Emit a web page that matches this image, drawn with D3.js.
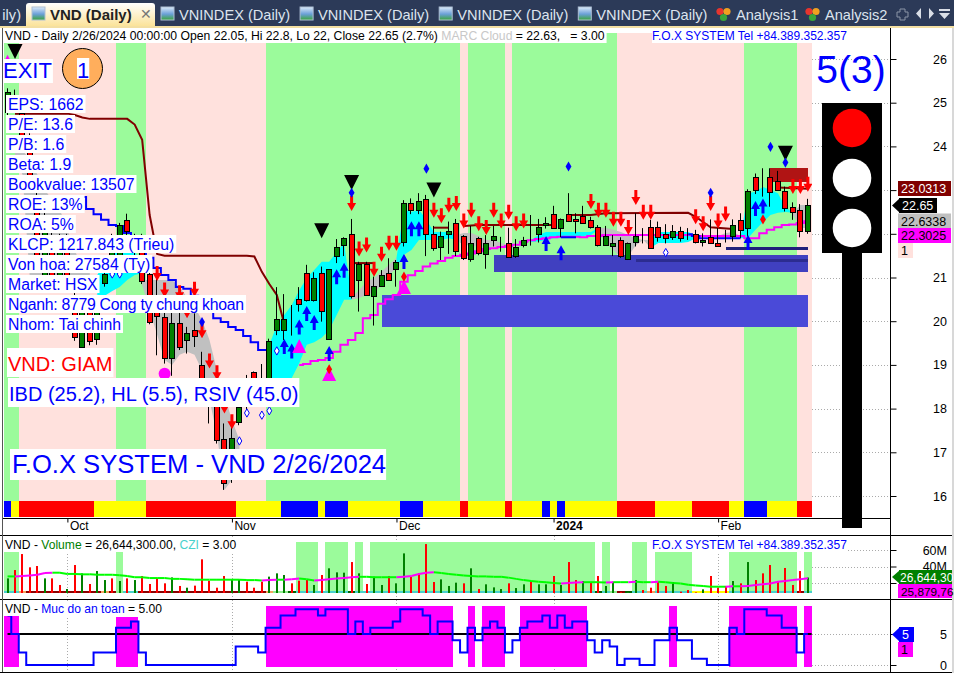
<!DOCTYPE html>
<html><head><meta charset="utf-8">
<script src="https://cdn.jsdelivr.net/npm/d3@7"></script>
<style>
html,body{margin:0;padding:0;background:#fff;overflow:hidden}
svg{display:block}
text{font-family:"Liberation Sans",Arial,sans-serif}
</style></head><body>
<svg id="c" width="954" height="673"></svg>
<script>
// ---------- DATA (bar number 1..108, prices in thousand VND, volume in millions) ----------
const open=[24.8,25.2,24.76,24.26,22.77,21.06,21.97,21.06,21.86,20.26,19.39,20.2,19.58,20.88,21.2,21.3,22.31,21.75,21.95,21.09,20.48,20.09,19.15,19.95,19.58,19.79,18.99,18.55,18.4,17.3,16.95,17.69,18.1,18.84,18.5,18.3,19.78,19.78,20.2,20.5,21.1,20.49,21.1,19.59,21.48,21.73,21.99,20.93,21.3,20.58,20.79,21.1,21.18,21.8,22.7,22.54,22.79,21.99,21.69,21.98,22.24,21.94,21.43,21.9,21.55,21.84,21.73,21.8,21.48,21.73,21.98,21.98,22.19,22.45,22.14,22.45,22.35,22.4,22.31,22.15,21.73,21.73,21.85,21.43,21.8,21.89,22.15,22.15,21.99,21.93,22.06,21.93,21.99,21.8,21.93,21.8,21.8,21.93,22.31,22.14,23.29,23.21,23.29,23.2,22.99,22.61,22.54,22.05];
const high=[25.33,25.3,24.9,24.3,23,22.5,22.1,22,22,21,20.3,20.6,20.6,21.2,22,22.25,22.46,22,22,21.4,21.24,20.25,20.2,20.33,19.87,20.18,19.3,18.7,18.6,17.66,17.7,18.12,18.77,18.85,19.02,19.6,20.78,20.62,20.37,20.78,21.29,21.12,21.25,21.19,21.88,21.92,22.34,21.36,21.36,21.02,21.17,21.44,21.4,22.77,22.81,22.93,22.89,22.18,22.05,22.28,22.34,21.97,22.18,21.93,21.97,22.18,21.93,22.14,21.88,21.93,22.43,22.34,22.38,22.64,22.35,22.93,22.47,22.64,22.39,22.2,22.18,21.97,21.92,21.8,22.47,22.13,22.32,22.28,22.22,22.2,22.16,22.13,22.09,22.01,22.33,22.13,22.09,22.33,22.47,23.02,23.38,23.5,23.5,23.44,23.08,22.72,22.68,22.8];
const low=[24.7,25.15,24.2,23.3,21.4,21,20.9,21,20.9,19.55,19.3,19.45,19.46,20.79,21.15,21.2,21.95,21.4,20.85,19.93,19.22,19.03,18.75,19.34,19.26,19.41,18.4,17.66,17.2,16.14,16.3,17.62,17.9,18.15,18.2,18.2,19.68,19.57,19.67,20.22,20.45,20.45,19.99,19.59,21.33,21.49,20.52,20.22,20.58,19.9,20.79,20.93,20.79,21.71,22.45,22.45,21.49,21.61,21.4,21.54,21.49,21.4,21.36,21.51,21.2,21.71,21.59,21.45,21.45,21.69,21.73,21.8,22.12,22.12,21.92,22.3,22.01,22.23,22.12,21.71,21.73,21.49,21.45,21.4,21.71,21.78,21.68,21.82,21.78,21.86,21.82,21.86,21.78,21.71,21.78,21.71,21.8,21.82,21.9,21.93,22.91,22.85,22.62,22.99,22.51,22.32,21.92,22];
const close=[25.25,25.2,24.26,23.35,21.45,22.43,20.94,21.86,20.99,19.65,20.2,19.53,20.2,21.09,21.9,22.19,22.05,21.75,20.93,19.99,20.12,19.15,19.95,19.4,19.74,19.65,18.55,18.1,17.28,16.29,17.33,18.03,18.4,18.3,18.6,19.54,20.04,20.04,20.2,20.38,20.49,21,20.23,21.19,21.69,21.9,20.58,21.3,20.58,20.8,21.05,20.93,21.35,22.7,22.54,22.74,21.98,21.68,21.94,22.06,21.59,21.43,21.8,21.55,21.8,21.94,21.73,21.48,21.69,21.85,21.98,22.15,22.24,22.14,22.35,22.3,22.3,22.23,22.14,21.73,21.94,21.8,21.48,21.8,21.94,21.89,21.68,21.93,21.89,22.06,21.89,21.93,21.8,21.85,21.8,21.73,21.8,22.19,22.09,22.99,22.99,23.21,22.94,22.99,22.6,22.49,22.05,22.65];
const volume=[25.6,35.7,55.1,39,40.6,25.6,25.6,17.6,12.7,41.8,31.7,18.8,34.5,23.6,25.6,22.4,25.6,23.6,28.5,18.8,25.6,19.6,26.8,16.4,14.3,16.8,48.7,22.8,14.3,28.5,24.4,24.4,21.6,14.3,21.6,27.7,31.7,29.7,19.6,22.8,23.6,17.6,29.7,37.8,32.9,32.5,45.4,31.7,18.8,27.7,17.6,28.5,19.6,55.9,27.7,31.7,67.2,21.2,24.4,16.4,20.4,19.6,37.8,12.7,18.4,14.7,12.7,19.6,13.9,18.4,22.4,18.4,18.4,28.5,17.6,45.4,23.6,22.4,20.4,28.5,16.4,21.6,9,9,23.6,11.5,14.3,21.6,16.4,21.2,9.5,11.5,8.6,12.3,28.5,14.3,16.4,22.4,19.6,45.4,23.6,31.7,41.8,22.4,38.2,17.6,34.5,26.64];
const volumeSide="grrrrgrrgr"+"grggrgrgrr"+"rrgrgrrrrr"+"ggrrrgggrr"+"rgrgggrgrg"+"grggrrrrgg"+"grgrgggrgg"+"rggrgrrgrr"+"ggrggrrrrg"+"rrrgrrrgrg"+"rrrrrrrg";
const volumeMA=[28,28,28.5,29,30,32,32.5,32.5,31,31,30.5,30.5,30,30,30,29.5,28.5,27,27,26,26,26,25,25,24.5,24,24,24,24,24,24,24,23.5,23.5,23,23.5,24,24,24.5,25.5,24.5,23,23.5,24.5,25.5,26,27,27.5,27.5,27,27,27,27,27.5,28.5,31,32.5,33,32,31,30,29,28.5,28,28,27.5,27.5,26.5,25,23.5,22.5,21.5,21,20,19.5,20,20.5,21,21,21,20.5,21,21,21,21.5,21,21,21.5,21,20,19.5,18,17,16.5,15.5,15.5,15.5,16,16,16.5,17.5,18.5,19.5,21.5,22.5,23.5,24.5,25.88];
const safety=[8,5,2,0,0,0,0,0,0,0,0,0,2,2,2,6,6,7,2,0,0,0,0,0,0,0,0,0,0,0,0,3,3,3,2,6,6,8,8,9,9,9,8,9,9,9,5,7,5,6,6,6,7,9,9,9,8,5,7,7,4,2,6,4,6,7,6,2,4,6,7,7,8,6,8,6,7,7,4,2,4,3,0,1,1,0,0,4,4,6,4,4,1,1,0,0,0,6,5,9,9,9,8,8,6,6,2,5];
const safetyThreshold=5;
const safetyLowTopBars=[16,17,18];
const regimeKeys=["G","P","G","P","G","P","G","P","G","P","G","P"];
const regimeRuns=[2,13,4,16,26,1,5,1,14,17,7,2];
const stripKeys=["B","Y","R","Y","R","Y","B","Y","B","Y","B","Y","R","Y","R","Y","B","Y","B","Y","R","Y","R","Y","B","Y","R"];
const stripRuns=[1,1,10,7,12,6,5,1,3,7,3,5,1,5,1,4,1,1,1,7,5,5,5,2,3,4,2];
const cziKeys=[3,0,3,0,5,0,5,0,5,0,5,0,5,0,5,0,3,0,3,0,3];
const cziRuns=[2,13,1,23,3,1,3,1,1,1,30,1,1,3,2,1,5,5,9,1,1];
const flowKeys=["T","O","D","O","D","L","T","D","O","L","G","T","G","T","G","T","L","D","G","T","O","T","Y","T","D","T"];
const flowRuns=[2,1,10,1,1,1,2,17,1,2,1,7,1,32,1,1,1,1,1,2,1,5,5,9,1,1];
const monthBars=[9,31,53,74,96];
const monthNames=["Oct","Nov","Dec","2024","Feb"];
const priceTicks=[26,25,24,23,22,21,20,19,18,17,16];
const priceTicksCovered=[23,22];
const volumeTicks=[60,40,20];
const safetyTicks=[5,0];
const stopSeg1=[[2,24.75],[9,24.75],[10,24.72],[11,24.66],[12,24.63],[17,24.63],[18,24.5],[19,24.15],[20,22.43],[21,21.54],[22,21.5],[33,21.5],[34,21.48],[35,21.13],[36,20.85],[37,20.6],[38,19.93]];
const stopSeg2=[[47,21.33],[50,21.33]];
const stopSeg3=[[58,22.14],[60,22.14]];
const stopSeg4=[[62,22.18],[64,22.2],[74,22.2]];
const stopSeg5=[[76,22.43],[79,22.43],[81,22.47],[92,22.48],[93,22.39],[95,22.15],[98,22.11]];
const stopSeg6=[[104,23.06],[108,23.03]];
const trendBars=[11,12,13,14,15,16,17,18,19,20,21,22,23,24,25,26,27,28,29,30,31,32,33,34,35,36,92,93,94,95,96,97,98,99];
const trendVals=[22.84,22.57,22.45,22.32,22.2,22.18,22.02,21.86,21.63,21.45,21.22,21.06,20.94,20.78,20.74,20.58,20.42,20.23,20.07,19.98,19.87,19.8,19.66,19.52,19.34,19.34,21.99,21.95,21.9,21.9,21.9,21.9,21.9,21.9];
const trendSeg2=[[75,21.92],[77,21.92]];
const baseVals=[19,19.02,19.09,19.11,19.16,19.3,19.46,19.57,19.73,20.07,20.14,20.4,20.5,20.6,20.9,21.05,21.15,21.25,21.32,21.38,21.45,21.49,21.52,21.55,21.6,21.65,21.67,21.7,21.72,21.75,21.82,21.85,21.88,21.9,21.92,21.93,21.93,21.93,21.92,21.95,21.95,21.97,21.97,21.97,21.97,21.97,21.97,21.97,21.97,21.97,21.97,21.97,21.97,21.95,21.95,21.95,21.95,21.95,21.95,21.95,21.9,21.9,22.01,22.09,22.15,22.2,22.21,22.25,22.29];
const baseFirstBar=40;
// MARC cloud pieces: first bar, upper edge, lower edge
const cloudGrey=[
 [2,[24.03,23.92,23.69,23.35,23,22.77,22.55,22.09,21.63,21.17,21.13],[23.8,23.35,20.94,20.83,20.76,20.72,20.72,20.72,20.72,20.72,20.72]],
 [19,[20.94,20.94,20.94,20.94,20.94,20.78,20.55,20.33,20.03,19.57,18.88,18.31,17.74,17.28],[20.83,20.26,19.69,19.11,19,19.23,19.3,19.23,18.88,18.2,17.4,16.14,16.37,17.05]],
 [47,[20.55,20.71,20.9,20.99,21.13,21.29,21.45],[20.49,20.53,20.6,20.67,20.83,21.06,21.22]],
 [61,[21.97,22.02,22.02,21.95,21.86,21.86,21.79,21.74],[21.86,21.74,21.74,21.7,21.63,21.68,21.68,21.68]],
 [80,[22.13,22.13,22.09,22.04,21.97,21.9,21.86,21.86],[22.06,21.81,21.63,21.45,21.49,21.74,21.86,21.68]],
 [96,[21.95,22.02,22.04,21.95],[21.9,21.9,21.88,21.9]],
 [106,[22.48,22.66,22.66],[22.43,22.13,22.13]]
];
const cloudCyan=[
 [13,[21.06,21.36,21.52,21.63,21.68,21.63,21.17],[20.49,20.58,20.69,20.78,20.94,21.06,21.1]],
 [36,[19.46,19.91,20.14,20.37,20.71,20.99,21.17,21.36,21.36,21.58,21.79,20.55],[18.2,18.31,18.47,18.7,19.04,19.46,19.52,19.62,19.8,20.14,20.49,20.49]],
 [53,[21.45,22.55,22.5,22.55,22.32,22.04,22.04,22.04,21.97],[21.22,21.52,21.63,21.86,21.86,21.86,21.86,21.9,21.86]],
 [71,[21.86,21.97,22.04,22.04,22.04,22.04,22.04,22.04,22.04,22.13],[21.81,21.83,21.86,21.9,21.9,21.93,21.93,21.95,21.97,22.09]],
 [87,[21.86,22.04,22.04,22.04,22.04,22.04,21.97],[21.68,21.79,21.79,21.79,21.79,21.81,21.9]],
 [99,[21.93,22.93,22.96,23.07,23,22.93,22.61,22.48],[21.9,21.9,22.09,22.27,22.43,22.48,22.5,22.48]]
];
const sellBars=[21,22,24,25,26,27,28,29,30,31,47,48,49,50,51,52,53,58,59,60,61,62,63,64,65,66,67,68,69,70,79,80,81,82,83,84,85,86,87,93,94,95,96,97,106,107,108];
const sellTips=[20.92,20.54,20.48,20.07,20.56,19.61,18.92,18.65,17.89,17.53,22.52,21.48,21.57,21.02,21.36,21.61,21.61,22.37,22.24,22.48,22.52,22.12,22.37,22.06,21.97,22.37,22.12,22.32,22.06,22.12,22.57,22.37,22.37,22.16,22.16,21.97,22.66,22.32,22.32,22.22,22.06,22.52,22.12,22.28,22.91,22.91,22.96];
const buyBars=[38,39,40,41,42,44,45,46,54,55,56,73,75,100,101,102];
const buyTips=[19.59,19.49,20.04,20.35,20.14,19.43,21.19,21.34,21.54,22.29,22.29,21.95,21.74,21.97,22.75,22.81];
const exitBars=[2,43,47,58,105];
const exitTips=[26,21.9,23,22.83,23.67];
const entryBars=[1,40,44,54];
const entryTips=[26.1,19.59,18.95,20.94];
const dotBars=[47,57,76,95,103,105,27];
const dotVals=[22.94,23.49,23.54,22.94,23.99,23.63,19.98];
const ringBars=[15,16,32,33,35,36,37,89];
const ringVals=[21.08,21.08,17.26,17.9,17.85,17.95,19.32,21.57];
const redDotBars=[44,54,102];
const redDotVals=[18.9,21.02,22.33];
const pinkCircleBar=22, pinkCircleVal=18.8;
const zoneBars=[[51,108],[66,108],[85,108],[97,108],[103,108]];
const zoneVals=[[20.6,19.86],[21.52,21.13],[21.42,21.35],[21.7,21.63],[23.5,23.19]];
const infoLabels=["EPS: 1662","P/E: 13.6","P/B: 1.6","Beta: 1.9","Bookvalue: 13507","ROE: 13%","ROA: 5%","KLCP: 1217.843 (Trieu)","Von hoa: 27584 (Ty)","Market: HSX","Nganh: 8779 Cong ty chung khoan","Nhom: Tai chinh"];
const tabNames=["VNINDEX (Daily)","VNINDEX (Daily)","VNINDEX (Daily)","VNINDEX (Daily)"];
const analysisNames=["Analysis1","Analysis2"];
const headerRuns=[["VND - Daily 2/26/2024 00:00:00 Open 22.05, Hi 22.8, Lo 22, Close 22.65 (2.7%) ","#000"],["MARC Cloud","#c8c8c8"],[" = 22.63,   = 3.00","#000"]];
const volumeRuns=[["VND - ","#000"],["Volume","#008000"],[" = 26,644,300.00, ","#000"],["CZI","#48d1cc"],[" = 3.00","#000"]];
const safetyRuns=[["VND - ","#000"],["Muc do an toan","#0000ff"],[" = 5.00","#000"]];

// ---------- SCALES ----------
const bars=d3.range(1,109);
const x=d3.scaleLinear().domain([0.5,108.5]).range([3.8,811.6]);
const yP=d3.scaleLinear().domain([26,16]).range([59,496]);
const yV=d3.scaleLinear().domain([0,60]).range([599.5,550]);
const yS=d3.scaleLinear().domain([0,5]).range([665,634]);
const yC=d3.scaleOrdinal().domain([3,5]).range([552,542]);
const expand=(k,r)=>k.flatMap((v,i)=>Array(r[i]).fill(v));
const regime=expand(regimeKeys,regimeRuns), strip=expand(stripKeys,stripRuns), czi=expand(cziKeys,cziRuns), flow=expand(flowKeys,flowRuns);
const regimeCol={G:"#9bfb9b",P:"#ffe1dd"};
const stripCol={B:"#0000ff",Y:"#ffff00",R:"#ff0000"};
const flowCol={T:"#48d1cc",O:"#f4a460",D:"#8b0000",L:"#90ee90",G:"#006400",Y:"#ffff00"};
const bx=b=>Math.round(x(b-.5));
const bw=b=>Math.round(x(b+.5))-Math.round(x(b-.5));
const svg=d3.select("#c");
const defs=svg.append("defs");
defs.append("clipPath").attr("id","pane").append("rect").attr("x",4).attr("y",33).attr("width",808).attr("height",468);
const tabG=defs.append("linearGradient").attr("id","tabg").attr("x1",0).attr("x2",0).attr("y1",0).attr("y2",1);
tabG.append("stop").attr("offset",0).attr("stop-color","#ffffff");
tabG.append("stop").attr("offset",1).attr("stop-color","#fbe39a");
const iconG=defs.append("linearGradient").attr("id","icong").attr("x1",0).attr("x2",0).attr("y1",0).attr("y2",1);
iconG.append("stop").attr("offset",0).attr("stop-color","#dcebfa");
iconG.append("stop").attr("offset",.55).attr("stop-color","#6a9fd8");
iconG.append("stop").attr("offset",1).attr("stop-color","#3aa53a");

// ---------- TAB BAR ----------
const tabBar=svg.append("g");
tabBar.append("rect").attr("width",954).attr("height",26).attr("fill","#2c3a58");
tabBar.append("rect").attr("y",26).attr("width",954).attr("height",2).attr("fill","#f3dfa2");
tabBar.append("text").attr("x",21).attr("y",20).attr("text-anchor","end").attr("font-size",14.6).attr("fill","#dde4ee").text("ily)");
function icon(px){tabBar.append("rect").attr("x",px).attr("y",7).attr("width",13).attr("height",13).attr("fill","url(#icong)").attr("stroke","#aebfd4");}
tabBar.append("path").attr("d","M26,26V6a3,3 0 0 1 3,-3H152a3,3 0 0 1 3,3V26Z").attr("fill","url(#tabg)");
icon(32);
tabBar.append("text").attr("x",50).attr("y",20).attr("font-size",15).attr("font-weight","bold").attr("fill","#222").text("VND (Daily)");
tabBar.append("text").attr("x",140).attr("y",19).attr("font-size",14).attr("fill","#777").text("✕");
tabNames.forEach((t,k)=>{const px=161+k*139.1;icon(px);
 tabBar.append("text").attr("x",px+18).attr("y",20).attr("font-size",14.6).attr("fill","#dde4ee").text(t);});
analysisNames.forEach((t,k)=>{const px=717+k*89;
 [["#e8352e",3,9],["#f0a020",10,9],["#3aa53a",6.5,15]].forEach(h=>tabBar.append("circle").attr("cx",px+h[1]).attr("cy",h[2]+2.5).attr("r",3.6).attr("fill",h[0]));
 tabBar.append("text").attr("x",px+19).attr("y",20).attr("font-size",14.6).attr("fill","#dde4ee").text(t);});
tabBar.append("path").attr("d","M900,9h5v3h3v5h-3v3h-5v-3h-3v-5h3z").attr("fill","none").attr("stroke","#8a94a6");
tabBar.append("path").attr("d","M921,8v11l-5,-5.5z M929,8v11l5,-5.5z M939,9h11v2h-11z M939,13h11l-5.5,6z").attr("fill","#d9dee6");

// ---------- GRID (dotted, behind) ----------
const grid=svg.append("g").attr("stroke","#aaa").attr("stroke-dasharray","1,2");
priceTicks.forEach(t=>grid.append("line").attr("x1",812).attr("x2",890).attr("y1",Math.round(yP(t))+.5).attr("y2",Math.round(yP(t))+.5));
volumeTicks.forEach(t=>grid.append("line").attr("x1",812).attr("x2",890).attr("y1",Math.round(yV(t))+.5).attr("y2",Math.round(yV(t))+.5));
safetyTicks.forEach(t=>grid.append("line").attr("x1",812).attr("x2",890).attr("y1",Math.round(yS(t))+.5).attr("y2",Math.round(yS(t))+.5));
monthBars.forEach(b=>{[[536,600],[600,672]].forEach(r=>grid.append("line").attr("x1",Math.round(x(b))+.5).attr("x2",Math.round(x(b))+.5).attr("y1",r[0]).attr("y2",r[1]));});

// ---------- PRICE PANE ----------
const pane=svg.append("g").attr("clip-path","url(#pane)");
pane.append("g").selectAll("rect").data(bars).join("rect")
 .attr("x",bx).attr("width",bw).attr("y",33).attr("height",468).attr("fill",b=>regimeCol[regime[b-1]]);
const cloudArea=d3.area().x(d=>x(d.b)).y0(d=>yP(d.l)).y1(d=>yP(d.u));
function drawCloud(pieces,col){pieces.forEach(p=>{const pts=p[1].map((u,k)=>({b:p[0]+k,u,l:p[2][k]}));
 pane.append("path").attr("d",cloudArea(pts)).attr("fill",col);});}
drawCloud(cloudGrey,"#c0c0c0");drawCloud(cloudCyan,"#00ffff");
const zoneCols=["#4a4ad8","#4040c0","#2c2c90","#20207a","#b01414"];
zoneBars.forEach((z,k)=>pane.append("rect").attr("x",Math.round(x(z[0]))).attr("width",Math.round(x(z[1]))-Math.round(x(z[0])))
 .attr("y",Math.round(yP(zoneVals[k][0]))).attr("height",Math.round(yP(zoneVals[k][1]))-Math.round(yP(zoneVals[k][0]))).attr("fill",zoneCols[k]));
const stepLine=d3.line().x(d=>x(d[0])).y(d=>yP(d[1])).curve(d3.curveStep);
const plainLine=d3.line().x(d=>x(d[0])).y(d=>yP(d[1]));
const lines=pane.append("g").attr("fill","none").attr("stroke-width",2);
lines.append("path").attr("stroke","#ff00ff").attr("d",stepLine(baseVals.map((v,k)=>[baseFirstBar+k,v])));
lines.append("path").attr("stroke","#0000ff").attr("d",stepLine(trendBars.slice(0,26).map((b,k)=>[b,trendVals[k]])));
lines.append("path").attr("stroke","#0000ff").attr("d",stepLine(trendBars.slice(26).map((b,k)=>[b,trendVals[26+k]])));
lines.append("path").attr("stroke","#0000ff").attr("d",stepLine(trendSeg2));
[stopSeg1,stopSeg2,stopSeg3,stopSeg4,stopSeg5,stopSeg6].forEach(s=>lines.append("path").attr("stroke","#800000").attr("d",plainLine(s)));
// candles
const candle=pane.append("g").selectAll("g").data(bars).join("g");
candle.append("line").attr("x1",b=>Math.round(x(b))-.5).attr("x2",b=>Math.round(x(b))-.5).attr("y1",b=>yP(high[b-1])).attr("y2",b=>yP(low[b-1])).attr("stroke","#000");
candle.append("rect").attr("x",b=>Math.round(x(b))-2.5).attr("width",5)
 .attr("y",b=>Math.round(yP(Math.max(open[b-1],close[b-1])))+.5)
 .attr("height",b=>Math.max(0,Math.round(yP(Math.min(open[b-1],close[b-1]))-yP(Math.max(open[b-1],close[b-1])))))
 .attr("fill",b=>close[b-1]>open[b-1]?"#008000":close[b-1]<open[b-1]?"#ff0000":"#000").attr("stroke","#000");
// markers
const arrowDown=(px,py)=>`M${px},${py}l-4.5,-8h3v-7h3v7h3z`;
const arrowUp=(px,py)=>`M${px},${py}l-4.5,8h3v7h3v-7h3z`;
pane.append("path").attr("fill","#ff0000").attr("d",sellBars.map((b,k)=>arrowDown(x(b),yP(sellTips[k]))).join(""));
pane.append("path").attr("fill","#0000ff").attr("d",buyBars.map((b,k)=>arrowUp(x(b),yP(buyTips[k]))).join(""));
pane.append("path").attr("fill","#000").attr("d",exitBars.map((b,k)=>`M${x(b)},${yP(exitTips[k])}l-7.5,-15h15z`).join(""));
pane.append("path").attr("fill","#ff00ff").attr("d",entryBars.map((b,k)=>`M${x(b)},${yP(entryTips[k])}l-7,14h14z`).join(""));
const diamond=d3.symbol().type(d3.symbolDiamond);
dotBars.forEach((b,k)=>pane.append("path").attr("transform",`translate(${x(b)},${yP(dotVals[k])})`).attr("d",diamond.size(30)()).attr("fill","#0000ff"));
redDotBars.forEach((b,k)=>pane.append("path").attr("transform",`translate(${x(b)},${yP(redDotVals[k])})`).attr("d",diamond.size(30)()).attr("fill","#ff0000"));
ringBars.forEach((b,k)=>pane.append("path").attr("transform",`translate(${x(b)},${yP(ringVals[k])})`).attr("d",diamond.size(20)()).attr("fill","#fff").attr("stroke","#0000ff"));
pane.append("circle").attr("cx",x(pinkCircleBar)).attr("cy",yP(pinkCircleVal)).attr("r",6).attr("fill","#ff00ff");

// signal strip
svg.append("g").selectAll("rect").data(bars).join("rect").attr("x",bx).attr("width",bw).attr("y",501).attr("height",16).attr("fill",b=>stripCol[strip[b-1]]);

// ---------- VOLUME PANE ----------
const vol=svg.append("g");
vol.append("g").selectAll("rect").data(bars.filter(b=>czi[b-1]>0)).join("rect").attr("x",bx).attr("width",bw)
 .attr("y",b=>yC(czi[b-1])).attr("height",b=>593-yC(czi[b-1])).attr("fill","#9bfb9b");
vol.append("g").selectAll("rect").data(bars).join("rect").attr("x",bx).attr("width",bw).attr("y",591).attr("height",2).attr("fill",b=>flowCol[flow[b-1]]);
vol.append("g").selectAll("rect").data(bars).join("rect").attr("x",b=>Math.round(x(b))-1).attr("width",2)
 .attr("y",b=>yV(volume[b-1])).attr("height",b=>593-yV(volume[b-1])).attr("fill",b=>volumeSide[b-1]==="r"?"#ff0000":"#008000");
vol.append("g").selectAll("line").data(bars.slice(1)).join("line").attr("x1",b=>x(b-1)).attr("x2",b=>x(b))
 .attr("y1",b=>yV(volumeMA[b-2])).attr("y2",b=>yV(volumeMA[b-1])).attr("stroke-width",2)
 .attr("stroke",b=>volumeMA[b-1]>volumeMA[b-2]?"#ff00ff":"#00ff00");

// ---------- SAFETY PANE ----------
const safe=svg.append("g");
const bandTop=b=>Math.round(safetyLowTopBars.includes(b)?yS(7.7):yS(9.5));
safe.append("g").selectAll("rect").data(bars.filter(b=>safety[b-1]>=safetyThreshold)).join("rect")
 .attr("x",bx).attr("width",bw).attr("y",bandTop).attr("height",b=>Math.round(yS(-.3))-bandTop(b)).attr("fill","#ff00ff");
safe.append("line").attr("x1",x(1)).attr("x2",x(108.5)).attr("y1",yS(safetyThreshold)).attr("y2",yS(safetyThreshold)).attr("stroke","#000").attr("stroke-width",2);
safe.append("path").attr("fill","none").attr("stroke","#0000ff").attr("stroke-width",2)
 .attr("d",d3.line().x(b=>x(b)).y(b=>yS(safety[b-1])).curve(d3.curveStep)(bars));

// ---------- AXES & FRAME ----------
const frame=svg.append("g").attr("stroke","#000");
[[0,954,535.5],[0,954,599.5],[0,954,672.5],[3,890,518.5]].forEach(l=>frame.append("line").attr("x1",l[0]).attr("x2",l[1]).attr("y1",l[2]).attr("y2",l[2]));
frame.append("line").attr("x1",890.5).attr("x2",890.5).attr("y1",28).attr("y2",672);
frame.append("line").attr("x1",2.5).attr("x2",2.5).attr("y1",28).attr("y2",672).attr("stroke","#555");
svg.append("rect").attr("x",952).attr("y",28).attr("width",2).attr("height",645).attr("fill","#d8d8d8");
function rightAxis(scale,vals,fmt){
 const g=svg.append("g").attr("transform","translate(890.5,0)").call(d3.axisRight(scale).tickValues(vals).tickSize(6).tickFormat(fmt));
 g.select(".domain").remove();
 g.selectAll("text").attr("x",56.5).attr("text-anchor","end").attr("font-size",12.5).attr("font-family",'"Liberation Sans"').attr("fill","#000");
 return g;}
rightAxis(yP,priceTicks,d=>priceTicksCovered.includes(d)?"":d3.format("d")(d));
rightAxis(yV,volumeTicks,d=>d===20?"":d+"M");
rightAxis(yS,safetyTicks,d3.format("d"));
const dateAxis=svg.append("g").attr("transform","translate(0,518.5)")
 .call(d3.axisBottom(x).tickValues(monthBars).tickSize(4).tickFormat((d,k)=>monthNames[k]));
dateAxis.select(".domain").remove();
dateAxis.selectAll("text").attr("text-anchor","start").attr("dx",2).attr("y",3).attr("dy","0.71em").attr("font-size",12).attr("font-family",'"Liberation Sans"').attr("fill","#000")
 .attr("font-weight",d=>d===74?"bold":"normal");

// ---------- VALUE TAGS ----------
function tag(txt,tx,ty,tw,th,bg,fg,arrow,fs){
 if(arrow) svg.append("path").attr("d",`M${tx-7},${ty+th/2}L${tx+1},${ty}V${ty+th}Z`).attr("fill",bg);
 svg.append("rect").attr("x",tx).attr("y",ty).attr("width",tw).attr("height",th).attr("fill",bg);
 svg.append("text").attr("x",tx+(arrow&&fs?1:3)).attr("y",ty+th/2+4.5).attr("font-size",fs||12.5).attr("fill",fg).text(txt);
}
tag("23.0313",898,181,53,15,"#800000","#fff");
tag("22.65",899,198,38,15,"#000","#fff",true);
tag("22.6338",898,213.5,53,15,"#c0c0c0","#000");
tag("22.3025",898,228,53,15,"#ff00ff","#000");
tag("1",898,243,15,15,"#ffe1dd","#000");
tag("26,644,30",899,570,53,14,"#008000","#fff",true,12);
tag("25,879,76",898,584,54,14,"#ff00ff","#000",false,11.8);
tag("5",899,627,15,15,"#0000ff","#fff",true);
tag("1",898,642,15,15,"#ff00ff","#000");

// ---------- TRAFFIC LIGHT ----------
const light=svg.append("g");
light.append("rect").attr("x",822).attr("y",103).attr("width",60).attr("height",150).attr("fill","#000");
light.append("rect").attr("x",842).attr("y",253).attr("width",20).attr("height",275).attr("fill","#000");
[[128,"#ff0000"],[178,"#fff"],[228,"#fff"]].forEach(c=>light.append("circle").attr("cx",852).attr("cy",c[0]).attr("r",19.3).attr("fill",c[1]));
svg.append("text").attr("x",851).attr("y",83).attr("text-anchor","middle").attr("font-size",39).attr("fill","#0000ff").text("5(3)");

// ---------- TEXT BOXES ----------
function boxed(txt,tx,base,size,col,padL,padR,hUp,hDown,fit){
 const g=svg.append("g"), r=g.append("rect").attr("fill","#fff");
 const t=g.append("text").attr("x",tx).attr("y",base).attr("font-size",size).attr("fill",col).text(txt);
 if(fit) t.attr("textLength",fit).attr("lengthAdjust","spacing");
 const l=fit||t.node().getComputedTextLength();
 r.attr("x",tx-padL).attr("y",base-hUp).attr("width",l+padL+padR).attr("height",hUp+hDown);
}
function runs(parts,tx,base,pad,ytop,h,fs){
 const g=svg.append("g"), r=g.append("rect").attr("fill","#fff");
 const t=g.append("text").attr("x",tx).attr("y",base).attr("font-size",fs).style("white-space","pre");
 parts.forEach(p=>t.append("tspan").attr("fill",p[1]).text(p[0]));
 r.attr("x",tx-pad).attr("y",ytop).attr("width",t.node().getComputedTextLength()+pad*2).attr("height",h);
}
runs(headerRuns,5,39.5,2,28,15,12.2);
boxed("F.O.X SYSTEM Tel +84.389.352.357",652,39.5,12,"#0000ff",0,1,11.5,3.5);
runs(volumeRuns,5,549,1,538,14,12.1);
boxed("F.O.X SYSTEM Tel +84.389.352.357",652,549,12,"#0000ff",0,1,11,3);
runs(safetyRuns,5,613,1,602,14,12.1);
boxed("EXIT",3,78,22,"#0000ff",0,1,19,5);
svg.append("circle").attr("cx",82.5).attr("cy",68.5).attr("r",20).attr("fill","#ffae5c").attr("stroke","#000");
boxed("1",77,78,22,"#0000ff",0,0,20,1);
infoLabels.forEach((t,k)=>boxed(t,8,110+k*20,15.8,"#0000ff",2,2,15,3,t.startsWith("Nganh")?236:null));
boxed("VND: GIAM",8,371,20,"#ff0000",1,1,23,6);
boxed("IBD (25.2), HL (5.5), RSIV (45.0)",9,401,20,"#0000ff",1,1,23,6);
boxed("F.O.X SYSTEM - VND 2/26/2024",12,473,25.6,"#0000ff",2,0,24,7);
</script>
</body></html>
